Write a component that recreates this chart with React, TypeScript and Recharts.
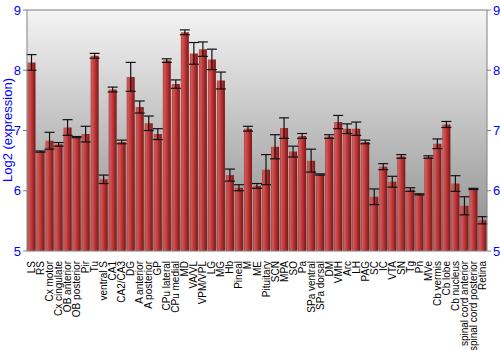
import React from 'react';
import { BarChart, Bar, XAxis, YAxis, CartesianGrid, ErrorBar, ReferenceLine } from 'recharts';

const regions = [
  'LS', 'RS', 'Cx motor', 'Cx cingulate', 'OB anterior', 'OB posterior', 'Pir', 'Tu', 'ventral S', 'CA1',
  'CA2/CA3', 'DG', 'A anterior', 'A posterior', 'GP', 'CPu lateral', 'CPu medial', 'MD', 'VA/VL', 'VPM/VPL',
  'LG', 'MG', 'Hb', 'Pineal', 'M', 'ME', 'Pituitary', 'SCN', 'MPA', 'SO',
  'Pa', 'SPa ventral', 'SPa dorsal', 'DM', 'VMH', 'Arc', 'LH', 'PAG', 'SC', 'IC',
  'VTA', 'SN', 'Tg', 'Pn', 'MVe', 'Cb vermis', 'Cb lobe', 'Cb nucleus', 'spinal cord anterior', 'spinal cord posterior',
  'Retina',
];

const expression = [
  8.13, 6.65, 6.83, 6.77, 7.05, 6.89, 6.94, 8.24, 6.19, 7.68,
  6.81, 7.89, 7.39, 7.12, 6.94, 8.16, 7.77, 8.63, 8.28, 8.35,
  8.18, 7.83, 6.26, 6.05, 7.03, 6.08, 6.35, 6.73, 7.04, 6.65,
  6.91, 6.5, 6.27, 6.9, 7.14, 7.03, 7.03, 6.81, 5.9, 6.4,
  6.15, 6.57, 6.02, 5.94, 6.56, 6.78, 7.1, 6.12, 5.75, 6.03,
  5.51,
];

const stdError = [
  0.13, 0.01, 0.14, 0.03, 0.13, 0.01, 0.13, 0.04, 0.07, 0.04,
  0.03, 0.24, 0.1, 0.12, 0.09, 0.03, 0.07, 0.04, 0.18, 0.12,
  0.17, 0.14, 0.1, 0.05, 0.04, 0.04, 0.25, 0.2, 0.17, 0.09,
  0.04, 0.19, 0.01, 0.03, 0.11, 0.08, 0.11, 0.03, 0.13, 0.05,
  0.09, 0.03, 0.03, 0.01, 0.02, 0.08, 0.05, 0.13, 0.15, 0.01,
  0.06,
];

const yTicks = [5, 6, 7, 8, 9];

const data = regions.map((name, i) => ({ name, value: expression[i], err: stdError[i] }));

const FONT = '"Liberation Sans", Arial, sans-serif';

const RotatedTick = (props: any) => {
  const { x, y, payload } = props;
  return (
    <text
      x={x}
      y={y + 2}
      transform={`rotate(-90, ${x}, ${y + 2})`}
      textAnchor="end"
      dy="0.35em"
      fontSize={10}
      fontFamily={FONT}
      fill="#000"
    >
      {payload.value}
    </text>
  );
};

const AxisTitle = () => (
  <text
    x={13}
    y={130}
    transform="rotate(-90, 13, 130)"
    textAnchor="middle"
    dy="-0.1em"
    fontSize={13}
    fontFamily={FONT}
    fill="#0000ff"
  >
    Log2 (expression)
  </text>
);

const App: React.FC = () => {
  return (
    <div style={{ position: 'absolute', left: 0, top: 0, width: 500, height: 350, background: '#fff' }}>
      <BarChart
        width={500}
        height={350}
        data={data}
        margin={{ top: 10, right: 0, left: 0, bottom: 0 }}
        barCategoryGap={0.5}
      >
        <defs>
          <linearGradient id="bgGrad" x1="0" y1="0" x2="0" y2="1">
            <stop offset="0%" stopColor="#f4f4f4" />
            <stop offset="100%" stopColor="#8a8a8a" />
          </linearGradient>
          <linearGradient id="barGrad" x1="0" y1="0" x2="1" y2="0">
            <stop offset="0%" stopColor="#a83838" />
            <stop offset="15%" stopColor="#d25a5a" />
            <stop offset="55%" stopColor="#b83434" />
            <stop offset="100%" stopColor="#7a1616" />
          </linearGradient>
        </defs>
        <CartesianGrid vertical={false} fill="url(#bgGrad)" stroke="#f2f2f2" strokeWidth={1.5} />
        <XAxis
          dataKey="name"
          interval={0}
          height={99}
          tick={<RotatedTick />}
          tickLine={false}
          axisLine={{ stroke: '#808080' }}
        />
        <YAxis
          yAxisId="left"
          domain={[5, 9]}
          ticks={yTicks}
          width={27}
          tickSize={4}
          tickMargin={2}
          axisLine={{ stroke: '#808080' }}
          tickLine={{ stroke: '#808080' }}
          tick={{ fill: '#0000ff', fontSize: 13, fontFamily: FONT }}
          allowDataOverflow
          label={{ content: () => <AxisTitle /> }}
        />
        <YAxis
          yAxisId="right"
          orientation="right"
          domain={[5, 9]}
          ticks={yTicks}
          width={13}
          tickSize={4}
          tickMargin={2}
          axisLine={{ stroke: '#808080' }}
          tickLine={{ stroke: '#808080' }}
          tick={{ fill: '#0000ff', fontSize: 13, fontFamily: FONT, textAnchor: 'start' }}
          allowDataOverflow
        />
        <ReferenceLine yAxisId="left" y={9} stroke="#808080" />
        <Bar yAxisId="left" dataKey="value" fill="url(#barGrad)" isAnimationActive={false}>
          <ErrorBar dataKey="err" width={5} stroke="#111" strokeWidth={1.2} />
        </Bar>
      </BarChart>
    </div>
  );
};

export default App;
